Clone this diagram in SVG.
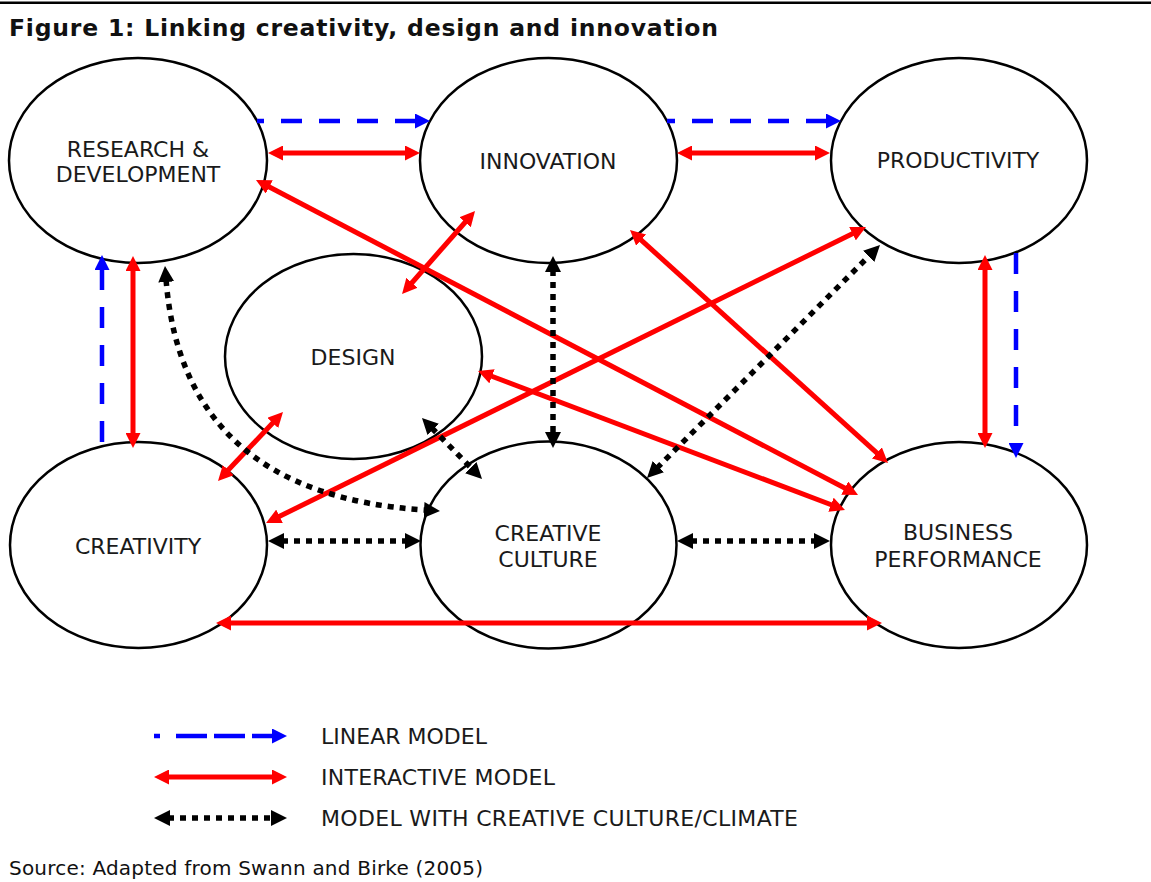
<svg xmlns="http://www.w3.org/2000/svg" width="1151" height="882" viewBox="0 0 1151 882">
<style>
.node ellipse{fill:#fff;stroke:#000;stroke-width:2.5}
.lbl{font-family:"DejaVu Sans",Verdana,sans-serif;font-size:22px;fill:#1a1a1a;text-anchor:middle}
.leg{font-family:"DejaVu Sans",Verdana,sans-serif;font-size:22px;fill:#1a1a1a}
.red{fill:none;stroke:#ff0000;stroke-width:5;marker-start:url(#ar);marker-end:url(#ar)}
.blue{fill:none;stroke:#0000ff;stroke-width:4.5;stroke-dasharray:21 17;marker-end:url(#ab)}
.dot{fill:none;stroke:#000;stroke-width:5.5;stroke-dasharray:6 6;marker-start:url(#ak);marker-end:url(#ak)}
</style>
<defs>
<marker id="ar" viewBox="0 -7.5 15 15" markerUnits="userSpaceOnUse" markerWidth="15" markerHeight="15" refX="1" refY="0" orient="auto-start-reverse"><path d="M0,-7.5 L15,0 L0,7.5 z" fill="#ff0000"/></marker>
<marker id="ab" viewBox="0 -7.5 15 15" markerUnits="userSpaceOnUse" markerWidth="15" markerHeight="15" refX="1" refY="0" orient="auto-start-reverse"><path d="M0,-7.5 L15,0 L0,7.5 z" fill="#0000ff"/></marker>
<marker id="ak" viewBox="0 -8 16 16" markerUnits="userSpaceOnUse" markerWidth="16" markerHeight="16" refX="2" refY="0" orient="auto-start-reverse"><path d="M0,-8 L16,0 L0,8 z" fill="#000"/></marker>
</defs>
<rect x="0" y="0" width="1151" height="882" fill="#fff"/>
<rect x="0" y="1.5" width="1151" height="2.5" fill="#000"/>
<text x="9" y="36" font-family="'DejaVu Sans',Verdana,sans-serif" font-weight="bold" font-size="23.5" fill="#111" textLength="709" lengthAdjust="spacing">Figure 1: Linking creativity, design and innovation</text>

<g id="rd" class="node"><ellipse cx="138" cy="160.5" rx="129" ry="102.5"/><text class="lbl" x="138" y="157">RESEARCH &amp;</text><text class="lbl" x="138" y="182">DEVELOPMENT</text></g>
<g id="innovation" class="node"><ellipse cx="548.5" cy="160.5" rx="128.5" ry="102.5"/><text class="lbl" x="548" y="169">INNOVATION</text></g>
<g id="productivity" class="node"><ellipse cx="959" cy="160.5" rx="128" ry="102.5"/><text class="lbl" x="958" y="168">PRODUCTIVITY</text></g>
<g id="design" class="node"><ellipse cx="353.5" cy="356.5" rx="128.5" ry="102.5"/><text class="lbl" x="353" y="365">DESIGN</text></g>
<g id="creativity" class="node"><ellipse cx="138.5" cy="545" rx="128.5" ry="103"/><text class="lbl" x="138" y="554">CREATIVITY</text></g>
<g id="creative-culture" class="node"><ellipse cx="548.5" cy="545" rx="128" ry="103.5"/><text class="lbl" x="548" y="541">CREATIVE</text><text class="lbl" x="548" y="567">CULTURE</text></g>
<g id="business-performance" class="node"><ellipse cx="959" cy="545" rx="128" ry="103"/><text class="lbl" x="958" y="540">BUSINESS</text><text class="lbl" x="958" y="567">PERFORMANCE</text></g>

<g id="connectors">
<path class="blue" d="M257,121 H416" stroke-dashoffset="14"/>
<path class="blue" d="M667,121 H827" stroke-dashoffset="13"/>
<path class="blue" d="M1016,253 V444"/>
<path class="blue" d="M102,442 V269"/>

<path class="red" d="M282,153 H406"/>
<path class="red" d="M691,153 H816"/>
<path class="red" d="M133,270 V434"/>
<path class="red" d="M985,269 V434"/>
<path class="red" d="M411.3,283.5 L465.8,221.5"/>
<path class="red" d="M268.4,186.5 L845.6,488.5"/>
<path class="red" d="M640.4,239.4 L877.6,453.6"/>
<path class="red" d="M491.1,376 L831.9,505"/>
<path class="red" d="M278.6,516.8 L853.4,233.2"/>
<path class="red" d="M227.6,470.8 L273.4,422.2"/>
<path class="red" d="M230,623 H868"/>

<path class="dot" d="M166.1,280 Q183,495 426,510.1"/>
<path class="dot" d="M553,270 V434"/>
<path class="dot" d="M656.9,468.1 L870.1,254.9"/>
<path class="dot" d="M431.8,428 L472.2,469"/>
<path class="dot" d="M282,541 H407"/>
<path class="dot" d="M691,541 H816"/>
</g>

<g id="legend">
<path d="M154,736 H273" fill="none" stroke="#0000ff" stroke-width="4.5" stroke-dasharray="6 16 31 7 31 7 40" marker-end="url(#ab)"/>
<path class="red" d="M168,777 H273"/>
<path class="dot" d="M168,818 H273"/>
<text class="leg" x="321" y="744" textLength="166" lengthAdjust="spacing">LINEAR MODEL</text>
<text class="leg" x="321" y="785" textLength="234" lengthAdjust="spacing">INTERACTIVE MODEL</text>
<text class="leg" x="321" y="826" textLength="477" lengthAdjust="spacing">MODEL WITH CREATIVE CULTURE/CLIMATE</text>
</g>
<text x="9" y="875" font-family="'DejaVu Sans',Verdana,sans-serif" font-size="20" fill="#111" textLength="474" lengthAdjust="spacing">Source: Adapted from Swann and Birke (2005)</text>
</svg>
